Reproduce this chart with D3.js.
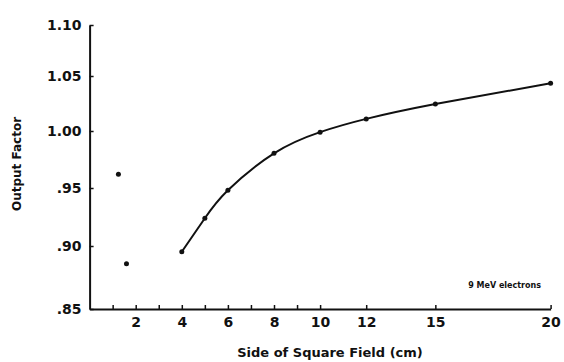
<!DOCTYPE html>
<html>
<head>
<meta charset="utf-8">
<script src="https://cdn.jsdelivr.net/npm/d3@7"></script>
<style>
  body { margin: 0; background: #fff; }
  svg text { font-family: "DejaVu Sans", sans-serif; fill: #111; }
</style>
</head>
<body>
<svg id="chart" width="564" height="362"></svg>
<script>
// Field size (cm) vs output factor
const curveSizes = [4, 5, 6, 8, 10, 12, 15, 20];
const curveFactors = [0.8954, 0.9239, 0.948, 0.9804, 0.999, 1.011, 1.0245, 1.0434];
const looseSizes = [1.25, 1.6];
const looseFactors = [0.962, 0.886];

const xTickValues = [1, 2, 3, 4, 5, 6, 7, 8, 9, 10, 12, 15, 20];
const xTickLabels = [2, 4, 6, 8, 10, 12, 15, 20];
const yTickValues = [0.85, 0.90, 0.95, 1.00, 1.05, 1.10];
const yTickLabels = [".85", ".90", ".95", "1.00", "1.05", "1.10"];

const svg = d3.select("#chart");

const x = d3.scaleLinear().domain([0, 20]).range([89.6, 550.6]);
// the scanned axis is not evenly spaced, so follow each printed tick
const y = d3.scaleLinear().domain(yTickValues).range([309, 246, 188, 131, 76, 25]);

// X axis
const xAxis = svg.append("g")
  .attr("transform", `translate(0,${y(0.85)})`)
  .call(d3.axisBottom(x)
    .tickValues(xTickValues)
    .tickSize(-4)
    .tickSizeOuter(0)
    .tickPadding(8)
    .tickFormat(d => xTickLabels.includes(d) ? d : ""));

// Y axis
const yAxis = svg.append("g")
  .attr("transform", `translate(${x(0)},0)`)
  .call(d3.axisLeft(y)
    .tickValues(yTickValues)
    .tickSize(-4)
    .tickSizeOuter(0)
    .tickPadding(8)
    .tickFormat((d, i) => yTickLabels[i]));

[xAxis, yAxis].forEach(a => {
  a.select(".domain").attr("stroke", "#111").attr("stroke-width", 2);
  a.selectAll(".tick line").attr("stroke", "#111").attr("stroke-width", 1.5);
  a.selectAll(".tick text")
    .attr("font-size", 14)
    .attr("font-weight", "bold")
    .attr("font-family", "DejaVu Sans, sans-serif")
    .attr("fill", "#111");
});

// fitted curve
const line = d3.line()
  .x(d => x(d[0]))
  .y(d => y(d[1]))
  .curve(d3.curveNatural);

const curvePts = d3.zip(curveSizes, curveFactors);
svg.append("path")
  .datum(curvePts)
  .attr("fill", "none")
  .attr("stroke", "#111")
  .attr("stroke-width", 2)
  .attr("d", line);

svg.append("g")
  .selectAll("circle")
  .data(curvePts.concat(d3.zip(looseSizes, looseFactors)))
  .join("circle")
  .attr("cx", d => x(d[0]))
  .attr("cy", d => y(d[1]))
  .attr("r", 2.5)
  .attr("fill", "#111");

// labels
svg.append("text")
  .attr("x", 541)
  .attr("y", 288)
  .attr("text-anchor", "end")
  .attr("font-size", 8)
  .attr("font-weight", "bold")
  .text("9 MeV electrons");

svg.append("text")
  .attr("x", 330)
  .attr("y", 357)
  .attr("text-anchor", "middle")
  .attr("font-size", 13)
  .attr("font-weight", "bold")
  .text("Side of Square Field (cm)");

svg.append("text")
  .attr("transform", "translate(21,164) rotate(-90)")
  .attr("text-anchor", "middle")
  .attr("font-size", 12)
  .attr("font-weight", "bold")
  .text("Output Factor");
</script>
</body>
</html>
